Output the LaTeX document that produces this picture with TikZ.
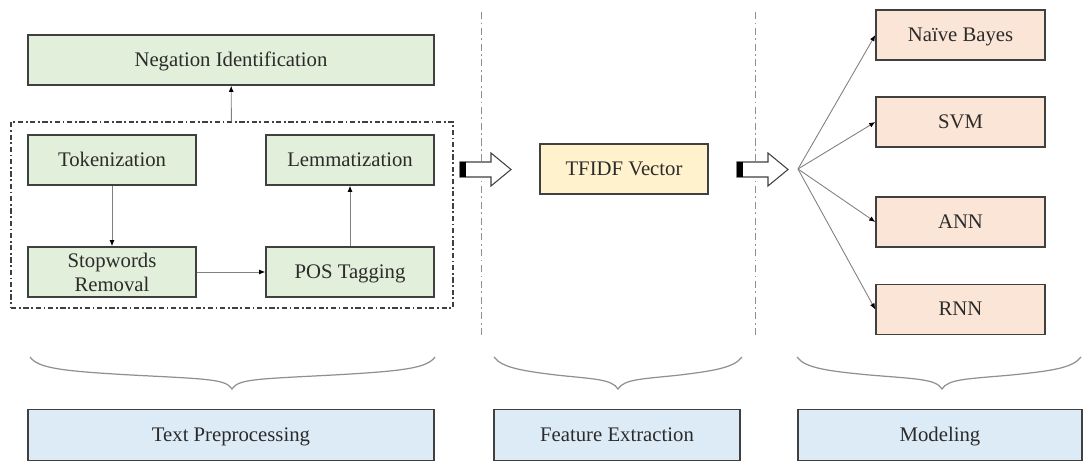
\documentclass[tikz,border=0pt]{standalone}
\usepackage{fontspec}
\setmainfont{Liberation Serif}
\usetikzlibrary{arrows.meta,positioning,shapes}

\definecolor{boxline}{HTML}{404040}
\definecolor{txt}{HTML}{2B2B2B}
\definecolor{prepfill}{HTML}{E2EFDA}
\definecolor{featfill}{HTML}{FFF2CC}
\definecolor{modfill}{HTML}{FBE5D6}
\definecolor{stagefill}{HTML}{DDEBF7}
\definecolor{connline}{HTML}{808080}
\definecolor{sepline}{HTML}{909090}

\begin{document}
\begin{tikzpicture}[x=0.02cm,y=-0.02cm,
    box/.style={draw=boxline,line width=0.8pt,text=txt,align=center,
      font=\fontsize{11.8pt}{13.6pt}\selectfont,minimum height=1cm,inner sep=2pt,
      text height=1.9ex,text depth=0.3ex},
    prep/.style={box,fill=prepfill,minimum width=3.36cm},
    feat/.style={box,fill=featfill,minimum width=3.36cm},
    model/.style={box,fill=modfill,minimum width=3.38cm},
    stage/.style={box,fill=stagefill,minimum height=1.02cm},
    conn/.style={draw=connline,line width=0.5pt,-{Latex[length=3.5pt,width=2.8pt,color=black]}},
    groupbox/.style={draw=boxline,line width=0.7pt,dash pattern=on 3pt off 1.5pt on 1pt off 1.5pt,
      minimum width=8.84cm,minimum height=3.72cm},
    sepline/.style={draw=sepline,line width=0.5pt,dash pattern=on 4pt off 2pt on 1pt off 2pt},
    bracel/.style={draw=sepline,line width=0.7pt},
    blockarr/.style={draw=boxline,line width=0.6pt,fill=white}]
    \useasboundingbox (0,0) rectangle (1083,462);

    % text preprocessing
    \node[prep,minimum width=8.12cm] (neg) at (231,60) {Negation Identification};
    \node[groupbox] (grp) at (232,215) {};
    \node[prep] (tok) at (112,160) {Tokenization};
    \node[prep] (lem) at (350,160) {Lemmatization};
    \node[prep,text height=,text depth=] (stop) at (112,272) {Stopwords\\Removal};
    \node[prep] (pos) at (350,272) {POS Tagging};

    \foreach \from/\to in {tok/stop,stop/pos,pos/lem,grp/neg}
        \draw[conn] (\from)--(\to);

    % feature extraction
    \node[feat] (tfidf) at (624,169) {TFIDF Vector};

    % modeling
    \node[model] (nb) at (960.5,35) {Naïve Bayes};
    \node[model] (svm) at (960.5,122) {SVM};
    \node[model] (ann) at (960.5,222) {ANN};
    \node[model] (rnn) at (960.5,309.5) {RNN};
    \coordinate (fan) at (798,169);
    \foreach \to in {nb,svm,ann,rnn}
        \draw[conn] (fan)--(\to.west);

    % separators and block arrows
    \foreach \x in {481,755}
        \draw[sepline] (\x,12)--(\x,337);
    \foreach \x in {460,737} {
        \draw[blockarr] (\x,162)--({\x+31},162)--({\x+31},153)--({\x+51},169.5)
            --({\x+31},186)--({\x+31},177)--(\x,177)--cycle;
        \fill[black] (\x,162) rectangle ({\x+6},177);
    }

    % braces
    \foreach \a/\m/\b in {30/232/435,494/618/742,797/942/1081}
        \draw[bracel] (\a,357) .. controls ({\a+8},368) and ({\a+30},371) .. ({(\a+\m)/2},375)
            .. controls ({\m-25},379) and ({\m-6},379) .. (\m,389)
            .. controls ({\m+6},379) and ({\m+25},379) .. ({(\m+\b)/2},375)
            .. controls ({\b-30},371) and ({\b-8},368) .. (\b,357);

    % stages
    \node[stage,minimum width=8.12cm] (tp) at (231,435) {Text Preprocessing};
    \node[stage,minimum width=4.92cm] (fe) at (617,435) {Feature Extraction};
    \node[stage,minimum width=5.68cm] (mod) at (940,435) {Modeling};
\end{tikzpicture}
\end{document}
